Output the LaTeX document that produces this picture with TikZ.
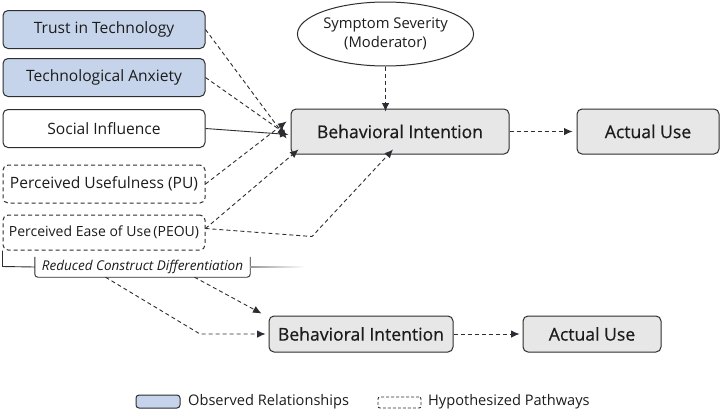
\documentclass[tikz,border=0pt]{standalone}
\usepackage{fontspec}
\setmainfont{Open Sans}
\newfontfamily\semib[FakeBold=0.6]{Open Sans}
\usetikzlibrary{arrows.meta,shapes.geometric}
\definecolor{obsblue}{HTML}{C5D4EA}
\definecolor{bigray}{HTML}{E7E7E7}
\definecolor{edgec}{HTML}{2E2E2E}
\definecolor{arrc}{HTML}{262D3D}
\definecolor{txt}{HTML}{1C1C1C}
\begin{document}
\begin{tikzpicture}[x=1pt,y=-1pt,
  box/.style={draw=edgec, line width=1pt, rounded corners=5pt, minimum width=202pt, minimum height=38pt, font=\fontsize{15.6}{18}\selectfont, inner sep=0pt, text=txt},
  obs/.style={box, fill=obsblue},
  hyp/.style={box, dash pattern=on 4pt off 3pt},
  mainbox/.style={draw=edgec, line width=1pt, rounded corners=5pt, fill=bigray, font=\fontsize{17.6}{20}\selectfont\semib, inner sep=0pt, text=txt},
  con/.style={draw=edgec, line width=0.9pt, -{Latex[length=8.5pt,width=7.5pt,fill=arrc]}},
  hcon/.style={con, dash pattern=on 4pt off 3pt},
  legtext/.style={font=\fontsize{14.6}{17}\selectfont, anchor=west, inner sep=0pt, text=txt}
]
\useasboundingbox (0,0) rectangle (722,413);
\fill[white] (0,0) rectangle (722,413);

% left constructs
\node[obs] (trust) at (104,29.5) {Trust in Technology};
\node[obs] (anx) at (104,77.5) {Technological Anxiety};
\node[box] (soc) at (104,128.5) {Social Influence};
\node[hyp] (pu) at (104,184) {Perceived Usefulness (PU)};
\node[hyp, minimum height=35pt, font=\fontsize{14}{17}\selectfont] (peou) at (104,232.5) {Perceived Ease of Use\,(PEOU)};

% moderator
\node[draw=edgec, line width=1pt, ellipse, minimum width=165pt, minimum height=64pt, inner sep=0pt, align=center, font=\fontsize{14.8}{19}\selectfont, text=txt] (mod) at (385.5,34) {Symptom Severity\\(Moderator)};

% main boxes
\node[mainbox, minimum width=218pt, minimum height=45pt] (bi) at (400,131.5) {Behavioral Intention};
\node[mainbox, minimum width=142pt, minimum height=45pt] (au) at (648,131.5) {Actual Use};
\node[mainbox, minimum width=184pt, minimum height=36pt] (bi2) at (361,334) {Behavioral Intention};
\node[mainbox, minimum width=138pt, minimum height=36pt] (au2) at (592,334) {Actual Use};

% bracket + label
\node[inner sep=0pt, minimum width=215pt, minimum height=20pt, font=\fontsize{13.5}{15}\selectfont\itshape, text=txt] (rcd) at (142.5,267) {Reduced Construct Differentiation};
\draw[edgec, line width=0.9pt] (peou.south west) -- ++(0,16) -- (rcd.west);
\draw[edgec, line width=0.9pt, rounded corners=3pt] (rcd.north west) -- (rcd.south west) -- (rcd.south east) -- (rcd.north east);
\shade[left color=gray!80, right color=white] ([yshift=-0.45pt]rcd.east) rectangle ([xshift=55pt,yshift=0.45pt]rcd.east);

% connectors to top BI
\draw[hcon] (trust.east) -- ([xshift=-4pt,yshift=-7pt]bi.west);
\draw[hcon] (anx.east) -- ([xshift=-4pt,yshift=-3pt]bi.west);
\draw[con] (soc.east) -- ([xshift=-2pt,yshift=-3pt]bi.west);
\draw[hcon] (pu.east) -- ([xshift=-4pt,yshift=10pt]bi.west);
\draw[hcon] ([yshift=4pt]peou.east) -- ([xshift=8pt,yshift=5pt]bi.south west);
\draw[hcon] ([yshift=4pt]peou.east) -- (312,236.5) -- ([xshift=-7pt,yshift=5pt]bi.south);
\draw[hcon] (mod.south) -- ([yshift=-3pt]bi.north -| mod.south);
\draw[hcon] (bi.east) -- ([xshift=-4pt]au.west);

% bottom
\draw[hcon] ([xshift=-37pt]rcd.south) -- (200,334) -- ([xshift=-3pt]bi2.west);
\draw[hcon] ([xshift=52pt]rcd.south) -- ([xshift=-7pt,yshift=2pt]bi2.north west);
\draw[hcon] (bi2.east) -- ([xshift=-3pt]au2.west);

% legend
\node[draw=edgec, line width=1pt, fill=obsblue, rounded corners=3pt, minimum width=44pt, minimum height=13pt, inner sep=0pt] (lobs) at (158,401.5) {};
\node[legtext] (lobst) at (188,401.5) {Observed Relationships};
\node[draw=edgec, line width=0.9pt, dash pattern=on 3pt off 2pt, rounded corners=2pt, minimum width=43pt, minimum height=11pt, inner sep=0pt] (lhyp) at (399.5,402.5) {};
\node[legtext] (lhypt) at (428,401.5) {Hypothesized Pathways};
\end{tikzpicture}
\end{document}
